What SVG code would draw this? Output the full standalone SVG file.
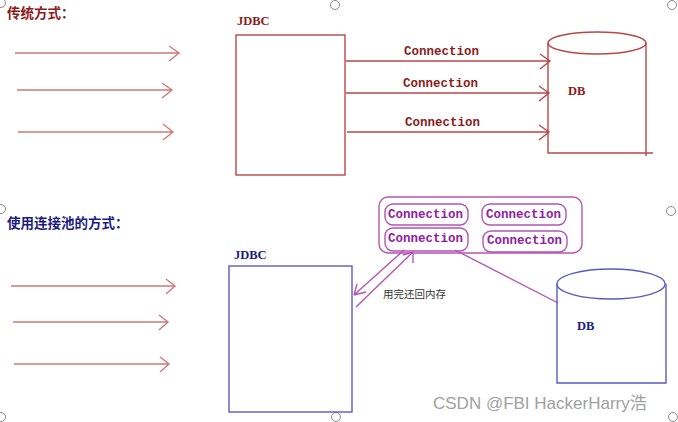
<svg xmlns="http://www.w3.org/2000/svg" width="678" height="422" viewBox="0 0 678 422">
<style>
.title{font-family:"Liberation Serif","Noto Sans CJK SC",serif;font-weight:bold;font-size:13.5px}
.lbl{font-family:"Liberation Serif",serif;font-weight:bold;font-size:12.5px}
.conn{font-family:"Liberation Mono",monospace;font-weight:bold;font-size:12.5px}
.in{stroke:#d07a7a;stroke-width:1.4;fill:none}
.red{stroke:#b84848;stroke-width:1.4;fill:none}
.blue{stroke:#5a5ac8;stroke-width:1.4;fill:none}
.pur{stroke:#b455b4;stroke-width:1.4;fill:none}
.handle{fill:#fff;stroke:#8a8a8a;stroke-width:1}
</style>
<rect width="678" height="422" fill="#fff"/>
<g id="handles">
<circle class="handle" cx="1" cy="3" r="4.5"/>
<circle class="handle" cx="335" cy="5" r="4.5"/>
<circle class="handle" cx="672" cy="5" r="4.5"/>
<circle class="handle" cx="1" cy="209" r="4.5"/>
<circle class="handle" cx="671" cy="211" r="4.5"/>
<circle class="handle" cx="1" cy="417" r="4.5"/>
<circle class="handle" cx="336" cy="417" r="4.5"/>
<circle class="handle" cx="673" cy="417" r="4.5"/>
</g>
<text class="title" x="7" y="18" fill="#8b1c1c">传统方式：</text>
<text class="title" x="7" y="228" fill="#1c1c80">使用连接池的方式：</text>
<g id="connectors">
<path class="in" d="M15 53H179M169 46L179 53L169 61"/>
<path class="in" d="M17 90H172M162 83L172 90L162 98"/>
<path class="in" d="M18 132H173M163 124L173 132L163 140"/>
<path class="red" d="M346 61H550M540 54L550 61L540 69"/>
<path class="red" d="M346 93H549M539 86L549 93L539 101"/>
<path class="red" d="M347 132H549M539 125L549 132L539 140"/>
<path class="in" d="M11 286H175M166 279L175 286L166 294"/>
<path class="in" d="M13 322H168M159 315L168 322L159 330"/>
<path class="in" d="M14 364H169M160 357L169 364L160 372"/>
<path class="pur" d="M404 250L354 295M354 295L366 292M354 295L357 284"/>
<path class="pur" d="M356 307L413 252M413 252L403 255M413 252L413 263"/>
<path class="pur" d="M455 250L558 303"/>
</g>
<g id="jdbc1">
<text class="lbl" x="237" y="25" fill="#8b1c1c">JDBC</text>
<rect class="red" x="236" y="35" width="109" height="140"/>
</g>
<g id="db1">
<ellipse class="red" cx="597" cy="43" rx="49" ry="11"/>
<path class="red" d="M548 43V153H653M646 43V156"/>
<text class="lbl" x="568" y="95" fill="#8b1c1c">DB</text>
</g>
<g id="conn-labels" fill="#8b1c1c">
<text class="conn" x="404" y="55">Connection</text>
<text class="conn" x="403" y="87">Connection</text>
<text class="conn" x="405" y="126">Connection</text>
</g>
<g id="jdbc2">
<text class="lbl" x="234" y="259" fill="#1c1c80">JDBC</text>
<rect class="blue" x="229" y="266" width="123" height="146"/>
</g>
<g id="pool">
<rect class="pur" x="379" y="197" width="203" height="56" rx="9"/>
<g fill="#9020a0">
<rect class="pur" x="385" y="204" width="83" height="21" rx="8"/>
<rect class="pur" x="482" y="204" width="84" height="21" rx="8"/>
<rect class="pur" x="385" y="228" width="83" height="23" rx="8"/>
<rect class="pur" x="483" y="231" width="84" height="21" rx="8"/>
<text class="conn" x="388" y="218">Connection</text>
<text class="conn" x="486" y="218">Connection</text>
<text class="conn" x="388" y="242">Connection</text>
<text class="conn" x="487" y="244">Connection</text>
</g>
</g>
<text x="383" y="298" font-family="'Noto Sans CJK SC',sans-serif" font-size="10.5" fill="#333">用完还回内存</text>
<g id="db2">
<ellipse class="blue" cx="611" cy="284" rx="54" ry="15"/>
<path class="blue" d="M557 284V383H666V284"/>
<text class="lbl" x="577" y="330" fill="#1c1c80">DB</text>
</g>
<text x="433" y="409" font-family="'Liberation Sans','Noto Sans CJK SC',sans-serif" font-size="17" fill="#a0a0a0">CSDN @FBI HackerHarry浩</text>
</svg>
